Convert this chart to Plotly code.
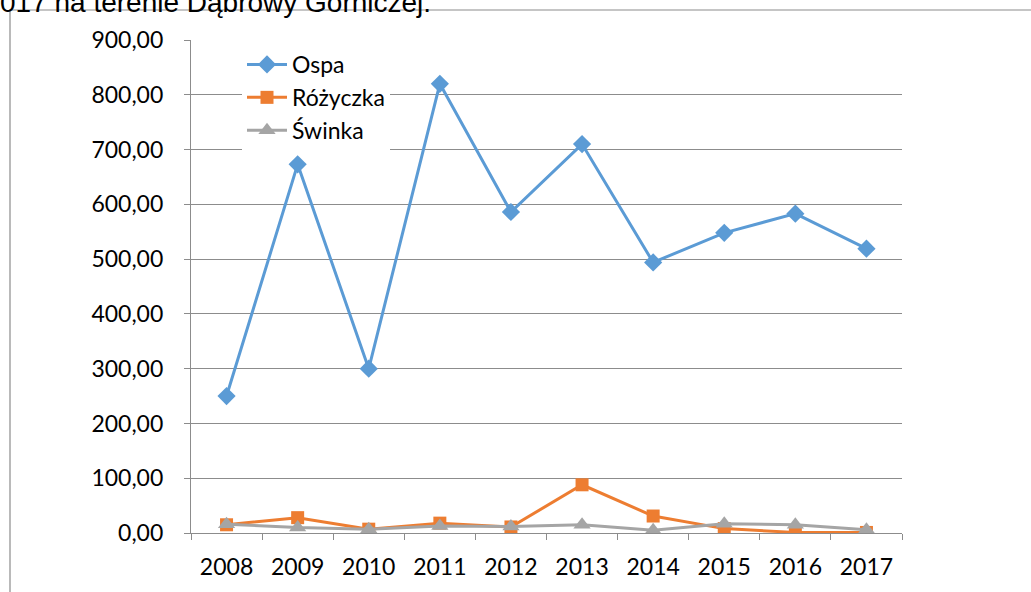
import plotly.graph_objects as go

years = ["2008", "2009", "2010", "2011", "2012", "2013", "2014", "2015", "2016", "2017"]
ospa = [250, 673, 300, 820, 586, 710, 494, 548, 583, 519]
rozyczka = [15, 28, 7, 18, 11, 88, 31, 8, 1, 1]
swinka = [16, 10, 7, 13, 12, 15, 5, 17, 15, 6]
y_ticks = [0, 100, 200, 300, 400, 500, 600, 700, 800, 900]

W, H = 1031, 592
L, R, T, B = 191, 902, 40, 533
pw, ph = R - L, B - T

def px_x(x):
    return (x - L) / pw

def px_y(y):
    return (B - y) / ph

fig = go.Figure()
fig.add_trace(go.Scatter(x=years, y=ospa, name="Ospa", mode="lines+markers",
                         line=dict(color="#5B9BD5", width=3),
                         marker=dict(symbol="diamond", size=14, color="#5B9BD5")))
fig.add_trace(go.Scatter(x=years, y=rozyczka, name="Różyczka", mode="lines+markers",
                         line=dict(color="#ED7D31", width=3),
                         marker=dict(symbol="square", size=13, color="#ED7D31")))
fig.add_trace(go.Scatter(x=years, y=swinka, name="Świnka", mode="lines+markers",
                         line=dict(color="#A5A5A5", width=3),
                         marker=dict(symbol="triangle-up", size=15, color="#A5A5A5")))

# chart frame (Excel chart border)
fig.add_shape(type="rect", xref="paper", yref="paper",
              x0=px_x(10), x1=px_x(1040), y0=px_y(600), y1=px_y(10),
              line=dict(color="#8C8C8C", width=1.2), layer="below")

# cut-off caption above the chart
fig.add_annotation(text="017 na terenie Dąbrowy Górniczej.", xref="paper", yref="paper",
                   x=px_x(-2), y=px_y(20), xanchor="left", yanchor="bottom",
                   showarrow=False, font=dict(family="Liberation Sans, Arial", size=28, color="black"))

fig.update_layout(
    width=W, height=H,
    margin=dict(l=L, r=W - R, t=T, b=H - B),
    paper_bgcolor="white", plot_bgcolor="white",
    font=dict(family="Lato, Open Sans, sans-serif", size=23, color="black"),
    separators=", ",
    showlegend=True,
    legend=dict(x=px_x(242), y=px_y(43), xanchor="left", yanchor="top",
                bgcolor="white", font=dict(size=23), tracegroupgap=0,
                itemwidth=40),
)
fig.update_xaxes(type="category", showline=True, linecolor="#8C8C8C", linewidth=1.2,
                 ticks="outside", ticklen=6, tickcolor="#8C8C8C", tickson="boundaries",
                 showgrid=False, ticklabelstandoff=13, range=[-0.5, 9.5])
fig.update_yaxes(range=[0, 900], tickvals=y_ticks, tickformat=".2f",
                 showline=True, linecolor="#8C8C8C", linewidth=1.2,
                 ticks="outside", ticklen=6, tickcolor="#8C8C8C",
                 showgrid=True, gridcolor="#8C8C8C", gridwidth=1,
                 zeroline=False, ticklabelstandoff=16)

fig.write_html("out.html", config={"displayModeBar": False},
               post_script="document.body.style.margin='0';")
